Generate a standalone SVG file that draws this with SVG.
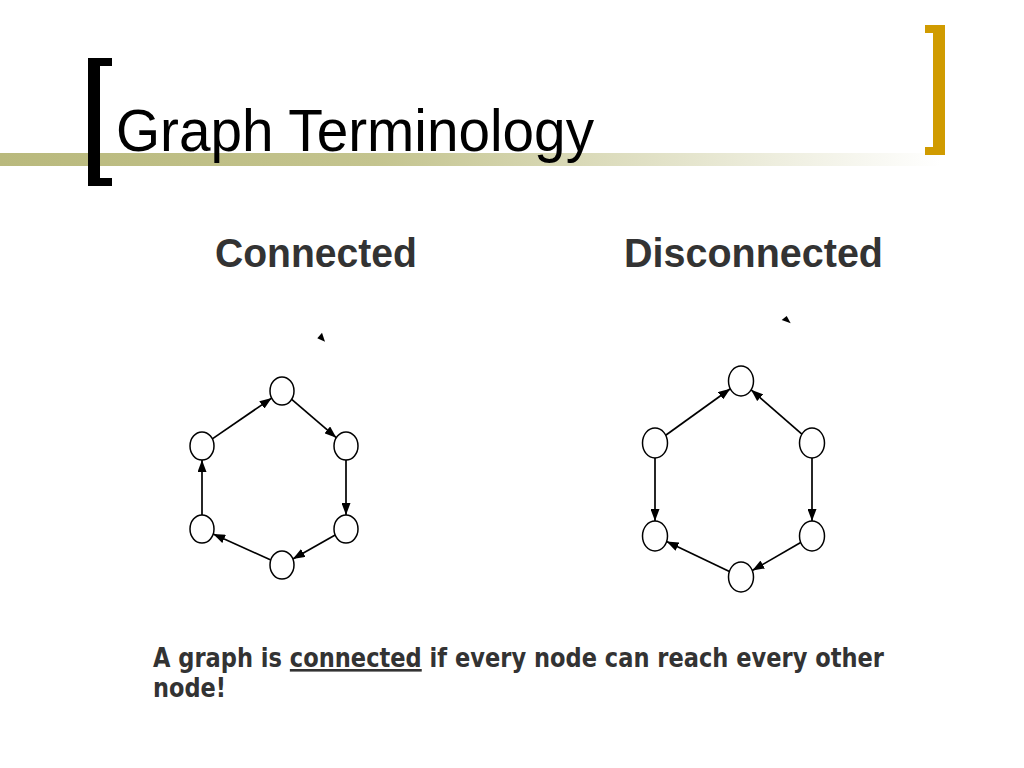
<svg xmlns="http://www.w3.org/2000/svg" width="1024" height="768" viewBox="0 0 1024 768">
<style>
.node{fill:#fff;stroke:#000;stroke-width:1.5}
.edge{stroke:#000;stroke-width:1.7;fill:none;marker-end:url(#ah)}
.head{font-family:"Liberation Sans",Arial,sans-serif;font-weight:bold;font-size:40px;fill:#333}
.note{font-family:"DejaVu Sans Condensed","DejaVu Sans",sans-serif;font-weight:bold;font-size:26px;fill:#333}
</style>
<defs>
<linearGradient id="bar" x1="0" y1="0" x2="940" y2="0" gradientUnits="userSpaceOnUse">
<stop offset="0" stop-color="#B9B97D"/>
<stop offset="0.4" stop-color="#C4C48F"/>
<stop offset="1" stop-color="#FFFFFF"/>
</linearGradient>
<marker id="ah" viewBox="0 0 12 9" refX="12" refY="4.5" markerWidth="12" markerHeight="9" markerUnits="userSpaceOnUse" orient="auto">
<path d="M0,0 L12,4.5 L0,9 z" fill="#000"/>
</marker>
</defs>
<rect width="1024" height="768" fill="#fff"/>
<g id="title-decor">
<rect x="0" y="153" width="940" height="13" fill="url(#bar)"/>
<path d="M112,58 H88 V186 H112 V178 H100 V66 H112 z" fill="#000"/>
<path d="M925,25 H945 V155 H925 V147 H933 V33 H925 z" fill="#D09B00"/>
</g>
<text x="116" y="151" font-family="Liberation Sans, Arial, sans-serif" font-size="59" fill="#000" textLength="478" lengthAdjust="spacingAndGlyphs">Graph Terminology</text>
<text class="head" x="215" y="267" textLength="202" lengthAdjust="spacingAndGlyphs">Connected</text>
<text class="head" x="624" y="267" textLength="259" lengthAdjust="spacingAndGlyphs">Disconnected</text>
<g id="connectors">
<line class="edge" x1="291.7" y1="399.3" x2="336.3" y2="437.7"/>
<line class="edge" x1="346" y1="460" x2="346" y2="515"/>
<line class="edge" x1="335.2" y1="535.1" x2="292.8" y2="558.9"/>
<line class="edge" x1="270.8" y1="560" x2="213.2" y2="534"/>
<line class="edge" x1="202" y1="515" x2="202" y2="460"/>
<line class="edge" x1="212.3" y1="438.9" x2="271.7" y2="398.1"/>
<line class="edge" x1="665.7" y1="435.3" x2="730.3" y2="388.7"/>
<line class="edge" x1="801.9" y1="434.2" x2="751.1" y2="389.8"/>
<line class="edge" x1="655" y1="458" x2="655" y2="521"/>
<line class="edge" x1="812" y1="458" x2="812" y2="521"/>
<line class="edge" x1="800.7" y1="542.5" x2="752.3" y2="570.5"/>
<line class="edge" x1="729.4" y1="571.5" x2="666.6" y2="541.5"/>
<polygon points="322,332.7 317.3,338.3 325,341.7" fill="#000"/>
<polygon points="786.7,316 781.7,320 790.7,323.3" fill="#000"/>
</g>
<g id="c-top"><ellipse class="node" cx="282" cy="391" rx="12" ry="14"/></g>
<g id="c-ru"><ellipse class="node" cx="346" cy="446" rx="12" ry="14"/></g>
<g id="c-rl"><ellipse class="node" cx="346" cy="529" rx="12" ry="14"/></g>
<g id="c-bot"><ellipse class="node" cx="282" cy="565" rx="12" ry="14"/></g>
<g id="c-ll"><ellipse class="node" cx="202" cy="529" rx="12" ry="14"/></g>
<g id="c-lu"><ellipse class="node" cx="202" cy="446" rx="12" ry="14"/></g>
<g id="d-top"><ellipse class="node" cx="741" cy="381" rx="12.5" ry="15"/></g>
<g id="d-lu"><ellipse class="node" cx="655" cy="443" rx="12.5" ry="15"/></g>
<g id="d-ru"><ellipse class="node" cx="812" cy="443" rx="12.5" ry="15"/></g>
<g id="d-ll"><ellipse class="node" cx="655" cy="536" rx="12.5" ry="15"/></g>
<g id="d-rl"><ellipse class="node" cx="812" cy="536" rx="12.5" ry="15"/></g>
<g id="d-bot"><ellipse class="node" cx="741" cy="577" rx="12.5" ry="15"/></g>
<text class="note" x="153" y="667" textLength="731" lengthAdjust="spacingAndGlyphs">A graph is <tspan text-decoration="underline">connected</tspan> if every node can reach every other</text>
<text class="note" x="153" y="697" textLength="73" lengthAdjust="spacingAndGlyphs">node!</text>
</svg>
